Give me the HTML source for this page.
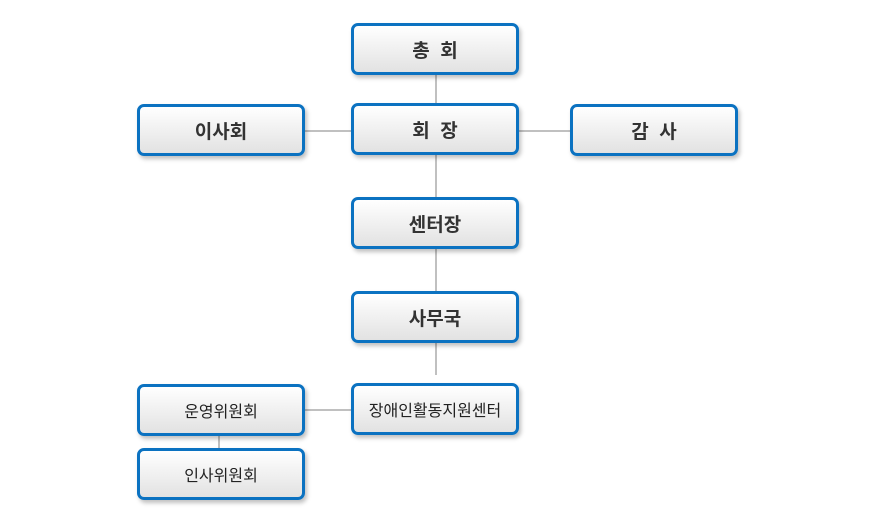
<!DOCTYPE html><html><head><meta charset="utf-8"><style>
body{margin:0;width:870px;height:526px;background:#fff;position:relative;overflow:hidden;font-family:"Liberation Sans","Noto Sans CJK KR",sans-serif}
.b{position:absolute;box-sizing:border-box;width:168px;height:52px;border:3.5px solid #0b72c1;border-radius:7px;background:linear-gradient(#ffffff,#e2e2e2);box-shadow:2px 3px 4px rgba(0,0,0,.25);display:flex;align-items:center;justify-content:center;font-size:19px;font-weight:bold;color:#333}
.s{font-size:16px;font-weight:normal;color:#222}
.l{position:absolute;background:#c0c0c0}
</style></head><body>
<div class="l" style="left:435px;top:75px;width:2px;height:300px"></div>
<div class="l" style="left:305px;top:130px;width:265px;height:2px"></div>
<div class="l" style="left:305px;top:409px;width:46px;height:2px"></div>
<div class="l" style="left:218px;top:436px;width:2px;height:14px"></div>
<div class="b" style="left:351px;top:23px">총&nbsp;&nbsp;회</div>
<div class="b" style="left:351px;top:103px">회&nbsp;&nbsp;장</div>
<div class="b" style="left:137px;top:104px">이사회</div>
<div class="b" style="left:570px;top:104px">감&nbsp;&nbsp;사</div>
<div class="b" style="left:351px;top:197px">센터장</div>
<div class="b" style="left:351px;top:291px">사무국</div>
<div class="b s" style="left:351px;top:383px">장애인활동지원센터</div>
<div class="b s" style="left:137px;top:384px">운영위원회</div>
<div class="b s" style="left:137px;top:448px">인사위원회</div>
</body></html>
